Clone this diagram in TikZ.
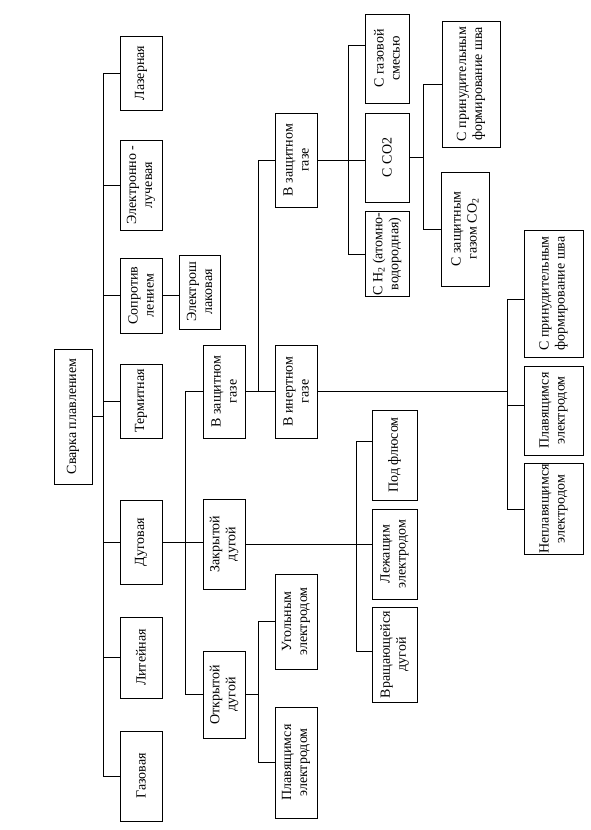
\documentclass[tikz,border=0pt]{standalone}
\usepackage{fontspec}
\setmainfont{Liberation Serif}

\tikzset{
    blk/.style={draw, rotate=90, align=center, inner sep=1pt, line width=0.7pt,
        font=\fontsize{14}{16}\selectfont},
    lnk/.style={line width=0.7pt}
}

\begin{document}
\begin{tikzpicture}[x=1pt,y=-1pt]
    \useasboundingbox (0,0) rectangle (591,830);

    % root
    \node[blk, minimum width=135pt, minimum height=38pt] (root) at (73,416.5) {Сварка плавлением};

    % level 1
    \node[blk, minimum width=74pt, minimum height=42pt] (laz) at (141,73) {Лазерная};
    \node[blk, minimum width=90pt, minimum height=42pt] (elb) at (141,185) {Электронно -\\лучевая};
    \node[blk, minimum width=75pt, minimum height=42pt] (sopr) at (141,295.5) {Сопротив\\лением};
    \node[blk, minimum width=74pt, minimum height=42pt] (term) at (141,401) {Термитная};
    \node[blk, minimum width=84pt, minimum height=42pt] (dug) at (141,542) {Дуговая};
    \node[blk, minimum width=81pt, minimum height=42pt] (lit) at (141,657.5) {Литейная};
    \node[blk, minimum width=90pt, minimum height=42pt] (gaz) at (141,776) {Газовая};
    \node[blk, minimum width=74pt, minimum height=41pt] (esh) at (199.5,292) {Электрош\\лаковая};

    % level 2
    \node[blk, minimum width=93pt, minimum height=42pt] (zg1) at (224,391.5) {В защитном\\газе};
    \node[blk, minimum width=90pt, minimum height=42pt] (zak) at (224,544) {Закрытой\\дугой};
    \node[blk, minimum width=87pt, minimum height=42pt] (otk) at (224,694.5) {Открытой\\дугой};

    % level 3
    \node[blk, minimum width=94pt, minimum height=42pt] (zg2) at (296,160) {В защитном\\газе};
    \node[blk, minimum width=93pt, minimum height=42pt] (inert) at (296,391.5) {В инертном\\газе};
    \node[blk, minimum width=95pt, minimum height=42pt] (ugol) at (296,621.5) {Угольным\\электродом};
    \node[blk, minimum width=111pt, minimum height=42pt] (plav1) at (296,762.5) {Плавящимся\\электродом};
    \node[blk, minimum width=90pt, minimum height=45pt] (podfl) at (394.5,455) {Под флюсом};
    \node[blk, minimum width=90pt, minimum height=45pt] (lezh) at (394.5,554) {Лежащим\\электродом};
    \node[blk, minimum width=95pt, minimum height=45pt] (vrash) at (394.5,654.5) {Вращающейся\\дугой};

    % level 4
    \node[blk, minimum width=89pt, minimum height=44pt] (smes) at (387,58.5) {С газовой\\смесью};
    \node[blk, minimum width=89pt, minimum height=44pt] (co2) at (387,157.5) {С CO2};
    \node[blk, minimum width=84pt, minimum height=44pt] (h2) at (387,254) {С H\textsubscript{2} (атомно-\\водородная)};
    \node[blk, minimum width=126pt, minimum height=58pt] (prin1) at (471,84) {С принудительным\\формирование шва};
    \node[blk, minimum width=114pt, minimum height=48pt] (zco2) at (465,229) {С защитным\\газом CO\textsubscript{2}};
    \node[blk, minimum width=127pt, minimum height=59pt] (prin2) at (553.5,293.5) {С принудительным\\формирование шва};
    \node[blk, minimum width=89pt, minimum height=59pt] (plav2) at (553.5,410.5) {Плавящимся\\электродом};
    \node[blk, minimum width=88pt, minimum height=59pt] (neplav) at (553.5,509) {Неплавящимся\\электродом};

    % trunks
    \coordinate (t0) at (103,0);
    \coordinate (t1) at (185,0);
    \coordinate (t2) at (258,0);
    \coordinate (t3) at (356,0);
    \coordinate (t5) at (348,0);
    \coordinate (t6) at (423,0);
    \coordinate (t7) at (507,0);

    % off-centre inputs
    \coordinate (podflin) at ([yshift=14pt]podfl.north);
    \coordinate (vrashin) at ([yshift=3.5pt]vrash.north);
    \coordinate (smesin) at ([yshift=13.5pt]smes.north);
    \coordinate (prin2in) at ([yshift=-5.5pt]prin2.north);
    \coordinate (plav2in) at ([yshift=5.5pt]plav2.north);

    % root -> level 1
    \draw[lnk] (root.south) -- (root.south -| t0);
    \draw[lnk] (t0 |- laz.north) -- (t0 |- gaz.north);
    \foreach \n in {laz,elb,sopr,term,dug,lit,gaz}
        \draw[lnk] (\n.north) -- (\n.north -| t0);
    \draw[lnk] (sopr.south) -- (sopr.south -| esh.north);

    % arc
    \draw[lnk] (dug.south) -- (dug.south -| zak.north);
    \draw[lnk] (t1 |- zg1.north) -- (t1 |- otk.north);
    \draw[lnk] (zg1.north) -- (zg1.north -| t1);
    \draw[lnk] (otk.north) -- (otk.north -| t1);

    % open arc
    \draw[lnk] (otk.south) -- (otk.south -| t2);
    \draw[lnk] (t2 |- ugol.north) -- (t2 |- plav1.north);
    \draw[lnk] (ugol.north) -- (ugol.north -| t2);
    \draw[lnk] (plav1.north) -- (plav1.north -| t2);

    % closed arc
    \draw[lnk] (zak.south) -- (zak.south -| lezh.north);
    \draw[lnk] (t3 |- podflin) -- (t3 |- vrashin);
    \draw[lnk] (podflin) -- (podflin -| t3);
    \draw[lnk] (vrashin) -- (vrashin -| t3);

    % shielding gas
    \draw[lnk] (zg1.south) -- (zg1.south -| inert.north);
    \draw[lnk] (t2 |- zg2.north) -- (t2 |- inert.north);
    \draw[lnk] (zg2.north) -- (zg2.north -| t2);

    \draw[lnk] (zg2.south) -- (zg2.south -| co2.north);
    \draw[lnk] (t5 |- smesin) -- (t5 |- h2.north);
    \draw[lnk] (smesin) -- (smesin -| t5);
    \draw[lnk] (h2.north) -- (h2.north -| t5);

    \draw[lnk] (co2.south) -- (co2.south -| t6);
    \draw[lnk] (t6 |- prin1.north) -- (t6 |- zco2.north);
    \draw[lnk] (prin1.north) -- (prin1.north -| t6);
    \draw[lnk] (zco2.north) -- (zco2.north -| t6);

    % inert gas
    \draw[lnk] (inert.south) -- (inert.south -| t7);
    \draw[lnk] (t7 |- prin2in) -- (t7 |- neplav.north);
    \draw[lnk] (prin2in) -- (prin2in -| t7);
    \draw[lnk] (plav2in) -- (plav2in -| t7);
    \draw[lnk] (neplav.north) -- (neplav.north -| t7);
\end{tikzpicture}
\end{document}
